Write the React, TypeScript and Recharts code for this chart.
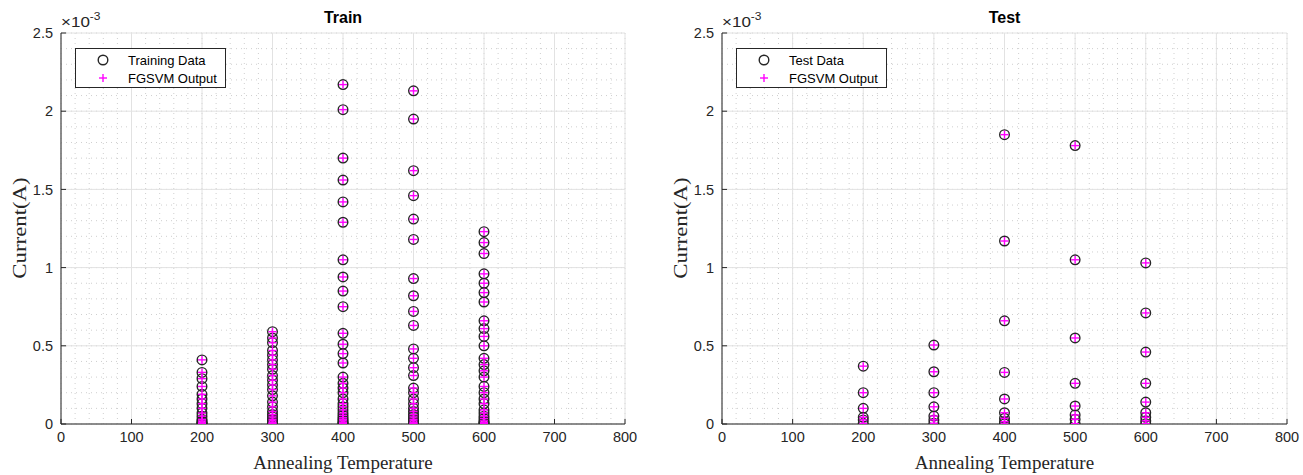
import React from 'react';
import { ScatterChart, Scatter, XAxis, YAxis, CartesianGrid } from 'recharts';

// annealing temperatures (x categories)
const temperatures = [200, 300, 400, 500, 600];

// measured current, in units of 1e-3 A, one list per temperature
const train200 = [0.41, 0.33, 0.29, 0.24, 0.19, 0.16, 0.13, 0.1, 0.07, 0.05, 0.03, 0.02, 0.012, 0.006, 0.003, 0.001];
const train300 = [0.59, 0.55, 0.52, 0.47, 0.44, 0.41, 0.38, 0.35, 0.31, 0.28, 0.25, 0.22, 0.18, 0.14, 0.11, 0.08, 0.06, 0.045, 0.03, 0.02, 0.01, 0.005, 0.002];
const train400 = [2.17, 2.01, 1.7, 1.56, 1.42, 1.29, 1.05, 0.94, 0.85, 0.75, 0.58, 0.51, 0.45, 0.39, 0.3, 0.26, 0.23, 0.2, 0.16, 0.13, 0.11, 0.09, 0.07, 0.055, 0.04, 0.03, 0.02, 0.01, 0.005, 0.002];
const train500 = [2.13, 1.95, 1.62, 1.46, 1.31, 1.18, 0.93, 0.82, 0.72, 0.63, 0.48, 0.42, 0.36, 0.31, 0.23, 0.2, 0.16, 0.13, 0.1, 0.08, 0.06, 0.045, 0.03, 0.02, 0.01, 0.005, 0.002];
const train600 = [1.23, 1.16, 1.09, 0.96, 0.9, 0.84, 0.78, 0.66, 0.61, 0.56, 0.5, 0.42, 0.38, 0.34, 0.3, 0.24, 0.2, 0.16, 0.13, 0.09, 0.07, 0.05, 0.035, 0.02, 0.01, 0.005, 0.002];

const test200 = [0.37, 0.2, 0.1, 0.043, 0.026, 0.004];
const test300 = [0.505, 0.334, 0.2, 0.11, 0.051, 0.026, 0.005];
const test400 = [1.85, 1.17, 0.66, 0.33, 0.16, 0.072, 0.036, 0.015, 0.001];
const test500 = [1.78, 1.05, 0.55, 0.26, 0.115, 0.058, 0.03, 0.002];
const test600 = [1.03, 0.71, 0.46, 0.26, 0.14, 0.072, 0.043, 0.02, 0.002];

const trainCurrent = [train200, train300, train400, train500, train600];
const testCurrent = [test200, test300, test400, test500, test600];

const xTicks = [0, 100, 200, 300, 400, 500, 600, 700, 800];
const yTicks = [0, 0.5, 1, 1.5, 2, 2.5];
const xMinor = Array.from({ length: 41 }, (_, i) => i * 20);
const yMinor = Array.from({ length: 26 }, (_, i) => i / 10);

const toPoints = (cols: number[][]) =>
  temperatures.flatMap((t, i) => cols[i].map((v) => ({ temp: t, current: v })));

const ink = '#262626';
const magenta = '#ff00ff';
const sans = '"Liberation Sans", Arial, sans-serif';
const serif = '"Liberation Serif", "Times New Roman", serif';

// minor grid positions through the axis scale (fallback: linear over the plot box)
const minorX = ({ xAxis, offset }: any) =>
  xMinor.map((v) =>
    xAxis && typeof xAxis.scale === 'function' ? xAxis.scale(v) : offset.left + (v / 800) * offset.width
  );
const minorY = ({ yAxis, offset }: any) =>
  yMinor.map((v) =>
    yAxis && typeof yAxis.scale === 'function' ? yAxis.scale(v) : offset.top + offset.height - (v / 2.5) * offset.height
  );

const renderCircle = (p: any) => (
  <circle cx={p.cx} cy={p.cy} r={4.8} fill="none" stroke={ink} strokeWidth={1.4} />
);
const renderPlus = (p: any) => (
  <g stroke={magenta} strokeWidth={1.4}>
    <line x1={p.cx - 4} x2={p.cx + 4} y1={p.cy} y2={p.cy} />
    <line x1={p.cx} x2={p.cx} y1={p.cy - 4} y2={p.cy + 4} />
  </g>
);

type PanelProps = {
  left: number;
  width: number;
  axisWidth: number;
  plotRight: number;
  title: string;
  dataName: string;
  values: number[][];
};

function Panel({ left, width, axisWidth, plotRight, title, dataName, values }: PanelProps) {
  const points = toPoints(values);
  const plotCenter = (axisWidth + plotRight) / 2;
  const tickStyle = { fill: ink, fontSize: 14.5, fontFamily: sans };
  return (
    <div style={{ position: 'absolute', left, top: 0, width, height: 475 }}>
      <ScatterChart
        width={width}
        height={475}
        margin={{ top: 33, right: width - plotRight, bottom: 21, left: 0 }}
      >
        <CartesianGrid
          stroke="#cfcfcf"
          strokeDasharray="1 4"
          verticalCoordinatesGenerator={minorX}
          horizontalCoordinatesGenerator={minorY}
        />
        <CartesianGrid stroke="#e2e2e2" />
        <XAxis
          type="number"
          dataKey="temp"
          domain={[0, 800]}
          ticks={xTicks}
          interval={0}
          height={30}
          tickSize={-5}
          tickMargin={13}
          stroke={ink}
          tick={tickStyle}
          allowDataOverflow
        />
        <YAxis
          type="number"
          dataKey="current"
          domain={[0, 2.5]}
          ticks={yTicks}
          interval={0}
          width={axisWidth}
          tickSize={-5}
          tickMargin={13}
          stroke={ink}
          tick={tickStyle}
          allowDataOverflow
        />
        <XAxis
          xAxisId="top"
          orientation="top"
          type="number"
          domain={[0, 800]}
          ticks={xTicks}
          interval={0}
          height={0}
          tickSize={-5}
          tickFormatter={() => ''}
          stroke={ink}
        />
        <YAxis
          yAxisId="right"
          orientation="right"
          type="number"
          domain={[0, 2.5]}
          ticks={yTicks}
          interval={0}
          width={0}
          tickSize={-5}
          tickFormatter={() => ''}
          stroke={ink}
        />
        <Scatter name={dataName} data={points} shape={renderCircle} isAnimationActive={false} />
        <Scatter name="FGSVM Output" data={points} shape={renderPlus} isAnimationActive={false} />
      </ScatterChart>

      <div style={{ position: 'absolute', left: plotCenter - 60, width: 120, top: 8, textAlign: 'center', fontFamily: sans, fontWeight: 'bold', fontSize: 16, color: '#000', lineHeight: '20px' }}>
        {title}
      </div>
      <div style={{ position: 'absolute', left: axisWidth, top: 11, fontFamily: sans, fontSize: 17, color: ink, lineHeight: '20px', whiteSpace: 'nowrap', transform: 'scale(1, 0.85)', transformOrigin: 'left bottom' }}>
        ×10<span style={{ fontSize: 12, position: 'relative', top: -8 }}>-3</span>
      </div>
      <div style={{ position: 'absolute', left: plotCenter - 150, width: 300, top: 452, textAlign: 'center', fontFamily: serif, fontSize: 19, color: ink, lineHeight: '22px' }}>
        Annealing Temperature
      </div>
      <div style={{ position: 'absolute', left: axisWidth - 41 - 70, top: 217, width: 140, textAlign: 'center', transform: 'rotate(-90deg) scale(1.2, 1)', fontFamily: serif, fontSize: 19, color: ink, lineHeight: '22px' }}>
        Current(A)
      </div>

      <div style={{ position: 'absolute', left: axisWidth + 14, top: 48, width: 151, height: 40, boxSizing: 'border-box', border: `1px solid ${ink}`, background: '#fff', fontFamily: sans, fontSize: 13, color: '#000' }}>
        <div style={{ position: 'absolute', left: 0, top: 3, height: 16, display: 'flex', alignItems: 'center' }}>
          <svg width={52} height={16}>
            <circle cx={27} cy={8} r={4.8} fill="none" stroke={ink} strokeWidth={1.4} />
          </svg>
          <span>{dataName}</span>
        </div>
        <div style={{ position: 'absolute', left: 0, top: 21, height: 16, display: 'flex', alignItems: 'center' }}>
          <svg width={52} height={16}>
            <g stroke={magenta} strokeWidth={1.4}>
              <line x1={23} x2={31} y1={8} y2={8} />
              <line x1={27} x2={27} y1={4} y2={12} />
            </g>
          </svg>
          <span>FGSVM Output</span>
        </div>
      </div>
    </div>
  );
}

export default function App() {
  return (
    <div style={{ position: 'absolute', left: 0, top: 0, width: 1303, height: 475, background: '#fff', overflow: 'hidden' }}>
      <Panel left={0} width={651} axisWidth={61} plotRight={625} title="Train" dataName="Training Data" values={trainCurrent} />
      <Panel left={651} width={652} axisWidth={71} plotRight={636} title="Test" dataName="Test Data" values={testCurrent} />
    </div>
  );
}
